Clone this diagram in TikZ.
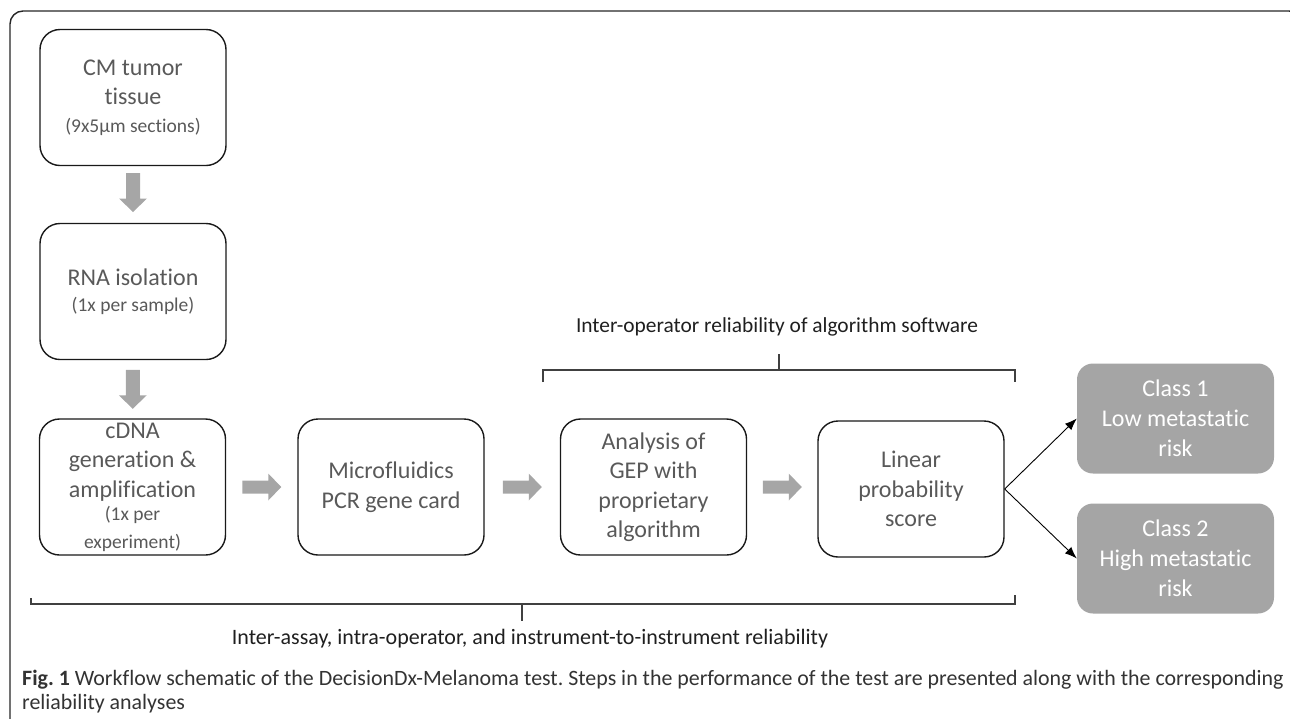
\documentclass[tikz,border=0pt]{standalone}
\usepackage{fontspec}
\setmainfont{Carlito}[Ligatures={NoCommon}]
\usetikzlibrary{calc,arrows.meta}
\definecolor{boxtext}{HTML}{595959}
\definecolor{arrowgray}{HTML}{A6A6A6}
\definecolor{classgray}{HTML}{A5A5A5}
\definecolor{linegray}{HTML}{404040}
\definecolor{captext}{HTML}{333333}
\tikzset{
  stepbox/.style={draw=black!90, line width=1.4pt, rounded corners=20pt,
    minimum width=186pt, minimum height=136pt, inner sep=0pt,
    align=center, text=boxtext, font=\fontsize{24}{29.5}\selectfont},
  classbox/.style={fill=classgray, rounded corners=16pt,
    minimum width=197pt, minimum height=110pt, inner sep=0pt,
    align=center, text=white, font=\fontsize{24}{30}\selectfont},
  fatright/.pic={\fill[arrowgray] (-19.5,-6.5) -- (6.5,-6.5) -- (6.5,-13.5) -- (19.5,0)
      -- (6.5,13.5) -- (6.5,6.5) -- (-19.5,6.5) -- cycle;},
  fatdown/.pic={\fill[arrowgray] (-7,-19.5) -- (-7,6) -- (-14,6) -- (0,19.5)
      -- (14,6) -- (7,6) -- (7,-19.5) -- cycle;},
  bracketline/.style={draw=linegray, line width=1.1pt},
  bracketlabel/.style={text=black!88, inner sep=0pt}
}
\newcommand{\subtxt}[1]{{\fontsize{19.5}{24}\selectfont #1}}
\begin{document}
\frenchspacing
\begin{tikzpicture}[x=1pt,y=-1pt]
\useasboundingbox (0,0) rectangle (1290,718);
% outer frame
\draw[line width=1.4pt, black!85, rounded corners=13pt] (10,11) rectangle (1302,740);

\node[stepbox] (b1) at (133,97.5) {CM tumor\\tissue\\[-2pt]\subtxt{(9x5µm sections)}};
\node[stepbox] (b2) at (133,291.5) {RNA isolation\\[-3pt]\subtxt{(1x per sample)}};
\node[stepbox] (b3) at (132.5,487) {cDNA\\generation \&\\amplification\\[-6pt]\subtxt{(1x per}\\[-2pt]\subtxt{experiment)}};
\node[stepbox] (b4) at (391,487) {Microfluidics\\PCR gene card};
\node[stepbox] (b5) at (653.5,487) {Analysis of\\GEP with\\proprietary\\algorithm};
\node[stepbox] (b6) at (911,489) {Linear\\probability\\score};
\node[classbox] (c1) at (1175.5,418.5) {Class 1\\Low metastatic\\risk};
\node[classbox] (c2) at (1175.5,558.5) {Class 2\\High metastatic\\risk};

% fat gray arrows between steps
\pic at ($(b1.south)!0.5!(b2.north)+(0,-2)$) {fatdown};
\pic at ($(b2.south)!0.5!(b3.north)$) {fatdown};
\pic at ($(b3.east)!0.5!(b4.west)$) {fatright};
\pic at ($(b4.east)!0.5!(b5.west)$) {fatright};
\pic at ($(b5.east)!0.5!(b6.west)+(0,-1)$) {fatright};

% outcome arrows
\draw[line width=0.9pt, -{Latex[length=12pt,width=9pt]}] (b6.east) -- (c1.west);
\draw[line width=0.9pt, -{Latex[length=12pt,width=9pt]}] (b6.east) -- (c2.west);

% top bracket
\draw[bracketline] (543,382) -- (543,370) -- (1015,370) -- (1015,382);
\draw[bracketline] (779,370) -- (779,354);
\node[bracketlabel, font=\fontsize{21.4}{25}\selectfont] (toplabel) at (777,327) {Inter-operator reliability of algorithm software};

% bottom bracket
\draw[bracketline] (31,598) -- (31,604) -- (1015,604) -- (1015,595);
\draw[bracketline] (522,604) -- (522,621);
\node[bracketlabel, font=\fontsize{22}{26}\selectfont] (botlabel) at (530,639) {Inter-assay, intra-operator, and instrument-to-instrument reliability};

% caption
\node[anchor=base west, align=left, inner sep=0pt, text=captext,
  font=\fontsize{21.9}{23.5}\selectfont] (caption) at (22,709)
  {\textbf{Fig. 1} Workflow schematic of the DecisionDx-Melanoma test. Steps in the performance of the test are presented along with the corresponding\\reliability analyses};
\end{tikzpicture}
\end{document}
